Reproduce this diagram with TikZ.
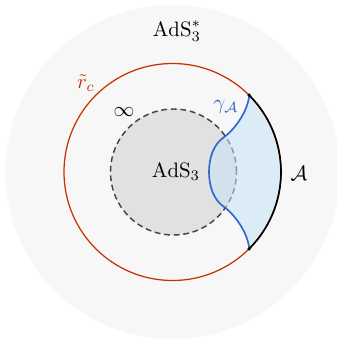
\documentclass[tikz,border=0pt]{standalone}
\usepackage{amsmath,amssymb}
\usetikzlibrary{positioning}
\definecolor{bulkGray}{HTML}{F7F7F7}
\definecolor{coreGray}{HTML}{E1E1E1}
\definecolor{dashGray}{HTML}{444444}
\definecolor{cutoffRed}{HTML}{C83200}
\definecolor{rtBlue}{HTML}{3366CC}
\definecolor{regionBlue}{HTML}{C4E3F6}

\begin{document}
\begin{tikzpicture}[
      x=0.48pt, y=0.48pt,
      cutoff/.style={draw=cutoffRed, line width=0.6pt},
      horizon/.style={draw=dashGray, fill=coreGray, line width=0.7pt, dash pattern=on 2.8pt off 1.8pt},
      rtcurve/.style={draw=rtBlue, line width=0.8pt},
      bdryarc/.style={draw=black, line width=0.8pt},
      entangle/.style={fill=regionBlue, fill opacity=0.55},
      enddot/.style={fill=black}
    ]
      \useasboundingbox (-172.5,-169) rectangle (163.5,172);
      \fill[bulkGray] (0,0) circle[radius=167];
      \path[horizon] (1,0) circle[radius=63];

      \coordinate (top) at (45:108.5);
      \coordinate (bot) at (-45:108.5);
      \coordinate (kinkN) at (51,34.5);
      \coordinate (kinkS) at (51,-34.5);
      \coordinate (tip) at (36.5,0);

      \path[entangle] (top) .. controls (75.5,61) and (62,42) .. (kinkN)
        .. controls (41,27.5) and (36.5,14) .. (tip)
        .. controls (36.5,-14) and (41,-27.5) .. (kinkS)
        .. controls (62,-42) and (75.5,-61) .. (bot)
        arc[start angle=-45, end angle=45, radius=108.5] -- cycle;

      \draw[cutoff] (0,0) circle[radius=108.5];
      \draw[bdryarc] (bot) arc[start angle=-45, end angle=45, radius=108.5];
      \draw[rtcurve] (top) .. controls (75.5,61) and (62,42) .. (kinkN)
        .. controls (41,27.5) and (36.5,14) .. (tip)
        .. controls (36.5,-14) and (41,-27.5) .. (kinkS)
        .. controls (62,-42) and (75.5,-61) .. (bot);
      \fill[enddot] (top) circle[radius=0.9pt];
      \fill[enddot] (bot) circle[radius=0.9pt];

      \node (adsstar) at (4.5,141) {$\mathrm{AdS}_3^*$};
      \node[text=cutoffRed] (rc) at (-86.5,89) {$\tilde{r}_c$};
      \node (inf) at (-48.5,60) {$\infty$};
      \node (ads) at (3.5,0) {$\mathrm{AdS}_3$};
      \node[text=rtBlue] (gam) at (53.5,65) {$\gamma_{\mathcal{A}}$};
      \node (bdry) at (126.5,-1) {$\mathcal{A}$};
    \end{tikzpicture}
\end{document}
